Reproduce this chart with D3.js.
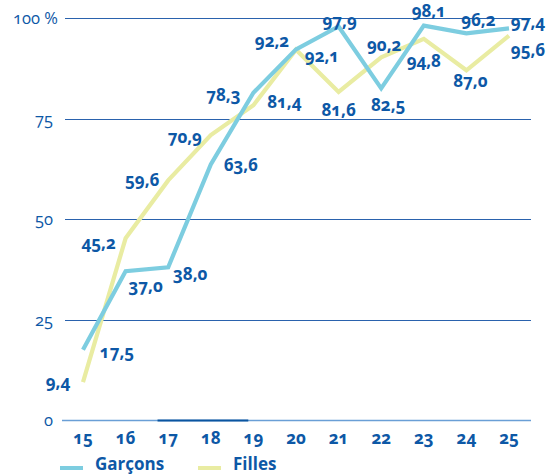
<!DOCTYPE html>
<html>
<head>
<meta charset="utf-8">
<script src="https://cdn.jsdelivr.net/npm/d3@7"></script>
<style>
  html, body { margin: 0; padding: 0; background: #ffffff; }
  svg { display: block; font-family: "Open Sans", "Noto Sans", sans-serif; }
  .num { font-variant-numeric: oldstyle-nums; font-feature-settings: "onum" 1; }
</style>
</head>
<body>
<svg id="chart" width="551" height="476"></svg>
<script>
const ages = [15, 16, 17, 18, 19, 20, 21, 22, 23, 24, 25];
const garcons = [17.5, 37.0, 38.0, 63.6, 81.4, 92.2, 97.9, 82.5, 98.1, 96.2, 97.4];
const filles  = [9.4, 45.2, 59.6, 70.9, 78.3, 92.1, 81.6, 90.2, 94.8, 87.0, 95.6];
const yTicks = [0, 25, 50, 75, 100];
const seriesNames = ["Garçons", "Filles"];

// label placement (presentation only): [dx, dy] from point to label centre/baseline
const offsG = [[34,8],[20,21],[22,13],[30,7],[31,15],[-24,-2],[1,1],[7,23],[5,-9],[12,-7],[19,0]];
const offsF = [[-25,6],[-27,11],[-26,6],[-26,8],[-30,-4],[26,12],[0,24],[3,-6],[0,28],[4,17],[19,20]];

const textBlue = "#0d58a6";
const gridBlue = "#2a62ad";
const colG = "#7dcde0";
const colF = "#e9eca2";

const svg = d3.select("#chart");
const x = d3.scaleLinear().domain([15, 25]).range([83, 509]);
const y = d3.scaleLinear().domain([0, 100]).range([420, 18]);
const fmt = v => d3.format(".1f")(v).replace(".", ",");

// gridlines
svg.append("g").selectAll("line").data(yTicks.filter(t => t > 0)).join("line")
  .attr("x1", 65).attr("x2", 531)
  .attr("y1", d => Math.round(y(d)) + 0.5).attr("y2", d => Math.round(y(d)) + 0.5)
  .attr("stroke", gridBlue).attr("stroke-width", 1.2);
// zero line
svg.append("line").attr("x1", 62).attr("x2", 531)
  .attr("y1", Math.round(y(0)) + 0.5).attr("y2", Math.round(y(0)) + 0.5)
  .attr("stroke", "#6a9fd6").attr("stroke-width", 1.5);
svg.append("line").attr("x1", x(16.75)).attr("x2", x(18.88))
  .attr("y1", Math.round(y(0)) + 0.5).attr("y2", Math.round(y(0)) + 0.5)
  .attr("stroke", "#0a55a0").attr("stroke-width", 2);

// y labels
svg.append("g").selectAll("text").data(yTicks).join("text")
  .attr("class", "num")
  .attr("x", d => d === 100 ? 13 : 53)
  .attr("y", d => y(d) + 6)
  .attr("text-anchor", d => d === 100 ? "start" : "end")
  .attr("fill", textBlue).attr("font-size", 16.5)
  .text(d => d === 100 ? "100 %" : d);

// x labels
svg.append("g").selectAll("text").data(ages).join("text")
  .attr("class", "num")
  .attr("x", d => x(d)).attr("y", 444)
  .attr("text-anchor", "middle")
  .attr("fill", textBlue).attr("font-size", 17).attr("font-weight", "bold")
  .text(d => d);

const line = d3.line().x((d, i) => x(ages[i])).y(d => y(d));
svg.append("path").datum(filles).attr("d", line)
  .attr("fill", "none").attr("stroke", colF).attr("stroke-width", 4.2).attr("stroke-linejoin", "miter");
svg.append("path").datum(garcons).attr("d", line)
  .attr("fill", "none").attr("stroke", colG).attr("stroke-width", 4.2).attr("stroke-linejoin", "miter");

function labels(vals, offs) {
  svg.append("g").selectAll("text").data(vals).join("text")
    .attr("class", "num")
    .attr("x", (d, i) => x(ages[i]) + offs[i][0])
    .attr("y", (d, i) => y(d) + offs[i][1])
    .attr("text-anchor", "middle")
    .attr("fill", textBlue).attr("font-size", 17).attr("font-weight", "bold")
    .text(d => fmt(d));
}
labels(garcons, offsG);
labels(filles, offsF);

// legend
const leg = [{name: seriesNames[0], col: colG, x0: 60}, {name: seriesNames[1], col: colF, x0: 198}];
const lg = svg.append("g").selectAll("g").data(leg).join("g");
lg.append("line").attr("x1", d => d.x0).attr("x2", d => d.x0 + 23)
  .attr("y1", 468).attr("y2", 468).attr("stroke", d => d.col).attr("stroke-width", 4);
lg.append("text").attr("x", d => d.x0 + 35).attr("y", 470)
  .attr("fill", textBlue).attr("font-size", 17).attr("font-weight", "bold")
  .text(d => d.name);
</script>
</body>
</html>
